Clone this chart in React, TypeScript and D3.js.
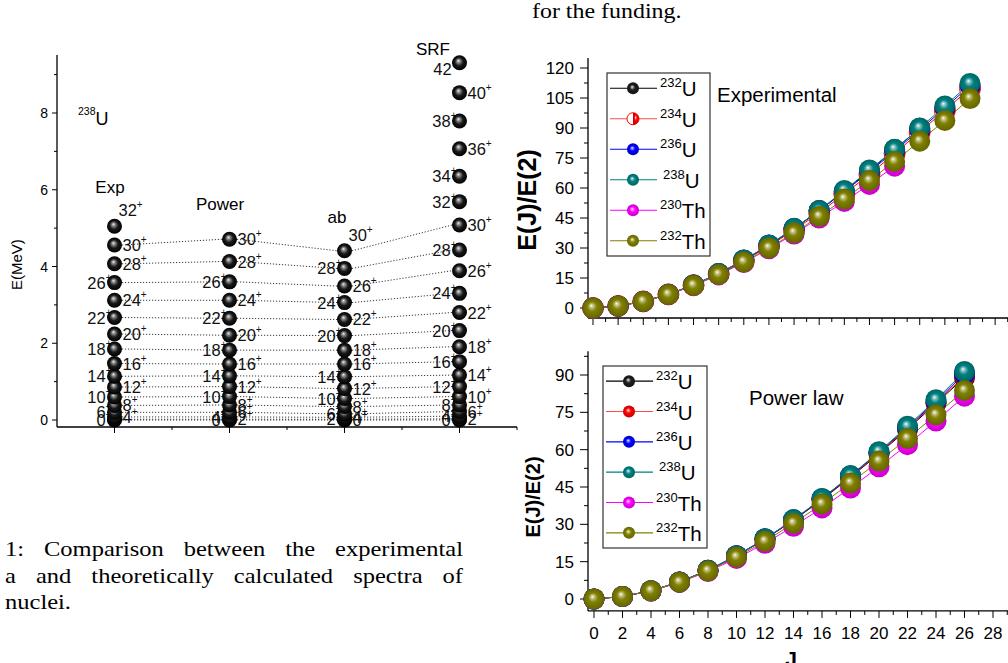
import React, { useLayoutEffect, useRef } from 'react';
import * as d3 from 'd3';

// ---------- left panel: 238U level schemes (energies in MeV)
const spinsExp = [0, 2, 4, 6, 8, 10, 12, 14, 16, 18, 20, 22, 24, 26, 28, 30, 32];
const energyExp = [0, 0.02, 0.08, 0.2, 0.38, 0.6, 0.86, 1.14, 1.47, 1.85, 2.24, 2.67, 3.12, 3.58, 4.07, 4.56, 5.05];
const sidesExp = 'L-RLRLRLRLRLRLRRT';

const spinsPower = [0, 2, 4, 6, 8, 10, 12, 14, 16, 18, 20, 22, 24, 26, 28, 30];
const energyPower = [0, 0.02, 0.08, 0.2, 0.39, 0.61, 0.87, 1.15, 1.46, 1.82, 2.21, 2.65, 3.12, 3.6, 4.13, 4.71];
const sidesPower = 'LRLRRLRLRLRLRLRR';

const spinsAb = [0, 2, 4, 6, 8, 10, 12, 14, 16, 18, 20, 22, 24, 26, 28, 30];
const energyAb = [0, 0.02, 0.07, 0.16, 0.35, 0.56, 0.82, 1.13, 1.46, 1.82, 2.2, 2.62, 3.06, 3.49, 3.95, 4.41];
const sidesAb = 'RLRLRLRLRRLRLRLT';

const spinsSrf = [0, 2, 4, 6, 8, 10, 12, 14, 16, 18, 20, 22, 24, 26, 28, 30, 32, 34, 36, 38, 40, 42];
const energySrf = [0, 0.03, 0.1, 0.22, 0.39, 0.61, 0.87, 1.17, 1.52, 1.91, 2.33, 2.8, 3.3, 3.89, 4.43, 5.08, 5.69, 6.35, 7.07, 7.79, 8.53, 9.31];
const sidesSrf = 'LRLRLRLRLRLRLRLRLLRLRB';

// ---------- right panels: E(J)/E(2)
const isotopeMass = ['232', '234', '236', '238', '230', '232'];
const isotopeEl = ['U', 'U', 'U', 'U', 'Th', 'Th'];
const isotopeColor = ['#000000', '#ff0000', '#0000ff', '#008080', '#ff00ff', '#808000'];

const spinsExpRatio = [0, 2, 4, 6, 8, 10, 12, 14, 16, 18, 20, 22, 24, 26, 28, 30];
const exp232U = [0, 1, 3.29, 6.78, 11.4, 17.0, 23.7, 31.2, 39.6, 48.6, 58.4, 68.6, 79.2, 89.9];
const exp234U = [0, 1, 3.3, 6.81, 11.4, 17.0, 23.6, 30.9, 39.0, 47.6, 57.0, 66.8, 77.2, 88.0, 98.8, 109.8];
const exp236U = [0, 1, 3.3, 6.85, 11.55, 17.3, 24.0, 31.5, 39.8, 48.7, 58.2, 68.1, 78.4, 89.1, 100.0, 111.2];
const exp238U = [0, 1, 3.3, 6.84, 11.54, 17.28, 23.98, 31.53, 39.83, 48.8, 58.8, 69.0, 79.4, 90.0, 101.0, 112.3];
const exp230Th = [0, 1, 3.27, 6.7, 11.16, 16.55, 22.73, 29.6, 37.0, 45.0, 53.3, 61.8, 70.9];
const exp232Th = [0, 1, 3.28, 6.75, 11.28, 16.75, 23.03, 30.0, 37.6, 45.8, 54.5, 63.7, 73.3, 83.4, 93.8, 104.7];

const spinsPowRatio = [0, 2, 4, 6, 8, 10, 12, 14, 16, 18, 20, 22, 24, 26];
const pow232U = [0, 1, 3.3, 6.85, 11.5, 17.3, 24.0, 31.6, 39.9, 48.9, 58.3, 68.2, 78.6, 89.0];
const pow234U = [0, 1, 3.3, 6.86, 11.55, 17.35, 24.1, 31.7, 40.1, 49.1, 58.6, 68.6, 79.0, 89.6];
const pow236U = [0, 1, 3.31, 6.87, 11.58, 17.4, 24.2, 31.8, 40.3, 49.4, 59.0, 69.0, 79.5, 90.5];
const pow238U = [0, 1, 3.31, 6.88, 11.6, 17.4, 24.2, 31.9, 40.4, 49.6, 59.2, 69.4, 80.1, 91.4];
const pow230Th = [0, 1, 3.25, 6.65, 11.05, 16.3, 22.4, 29.2, 36.6, 44.6, 53.1, 62.0, 71.5, 81.5];
const pow232Th = [0, 1, 3.28, 6.75, 11.3, 16.8, 23.2, 30.4, 38.2, 46.6, 55.4, 64.5, 74.0, 83.8];

const seriesExp = [exp232U, exp234U, exp236U, exp238U, exp230Th, exp232Th];
const seriesPow = [pow232U, pow234U, pow236U, pow238U, pow230Th, pow232Th];
const drawOrder = [0, 1, 2, 4, 3, 5];

const sans = '"Liberation Sans", Arial, sans-serif';
const serif = '"Liberation Serif", "DejaVu Serif", serif';

// ---------- scales
const xCol = d3.scaleLinear().domain([0, 8]).range([57, 517]);
const yE = d3.scaleLinear().domain([0, 8]).range([420, 113]);

const xTop = d3.scaleLinear().domain([0, 30]).range([593, 970]);
const yTop = d3.scaleLinear().domain([0, 120]).range([308, 68]);
const xBot = d3.scaleLinear().domain([0, 28]).range([594, 993]);
const yBot = d3.scaleLinear().domain([0, 90]).range([599, 375]);

const columns = [
  { name: 'Exp', pos: 1, spins: spinsExp, energy: energyExp, sides: sidesExp, title: [110, 193] },
  { name: 'Power', pos: 3, spins: spinsPower, energy: energyPower, sides: sidesPower, title: [220, 210] },
  { name: 'ab', pos: 5, spins: spinsAb, energy: energyAb, sides: sidesAb, title: [337, 223] },
  { name: 'SRF', pos: 7, spins: spinsSrf, energy: energySrf, sides: sidesSrf, title: [433, 55] },
];

function Gradients() {
  const stops = (c: string) => [
    ['0', '#ffffff'],
    ['0.16', d3.interpolateRgb('#ffffff', c)(0.45)],
    ['0.45', c],
    ['1', d3.color(c)!.darker(0.7).formatHex()],
  ];
  return (
    <defs>
      <radialGradient id="ball-black" cx="0.5" cy="0.5" r="0.5" fx="0.42" fy="0.36">
        <stop offset="0" stopColor="#f0f0f0" />
        <stop offset="0.22" stopColor="#8a8a8a" />
        <stop offset="0.55" stopColor="#1a1a1a" />
        <stop offset="1" stopColor="#000" />
      </radialGradient>
      {isotopeColor.map((c, i) => (
        <radialGradient key={i} id={`ball-${i}`} cx="0.5" cy="0.5" r="0.5" fx="0.42" fy="0.38">
          {stops(i === 0 ? '#1c1c1c' : c).map(([o, s]) => <stop key={o} offset={o} stopColor={s} />)}
        </radialGradient>
      ))}
    </defs>
  );
}

function LevelLabel({ x, y, j, side }: { x: number; y: number; j: number; side: string }) {
  if (side === '-') return null;
  let tx = x + 8, ty = y + 6, anchor = 'start';
  if (side === 'L') { tx = x - 3; anchor = 'end'; }
  if (side === 'T') { tx = x + 4; ty = y - 10; }
  if (side === 'B') { tx = x - 2; ty = y + 12; anchor = 'end'; }
  return (
    <text x={tx} y={ty} textAnchor={anchor} fontFamily={sans} fontSize={16.5} fill="#111">
      {j}
      <tspan fontSize={10} dy={-8}>+</tspan>
    </text>
  );
}

function LevelPanel() {
  const r = 7.5;
  const links: React.ReactElement[] = [];
  for (let c = 0; c < columns.length - 1; c++) {
    const a = columns[c], b = columns[c + 1];
    b.spins.forEach((j, k) => {
      const ia = a.spins.indexOf(j);
      if (ia < 0 || b.spins[k] > 30) return;
      links.push(
        <line key={`${c}-${j}`} x1={xCol(a.pos) + r} y1={yE(a.energy[ia])} x2={xCol(b.pos) - r} y2={yE(b.energy[k])}
          stroke="#222" strokeWidth={0.9} strokeDasharray="1.2,1.8" />
      );
    });
  }
  const axisY = 427;
  return (
    <g>
      <line x1={xCol(0)} x2={xCol(0)} y1={axisY} y2={55} stroke="#000" strokeWidth={1.3} />
      <line x1={xCol(0)} x2={xCol(8)} y1={axisY} y2={axisY} stroke="#000" strokeWidth={1.3} />
      {[0, 1, 2, 3, 4, 5, 6, 7, 8, 9].map((v) => (
        <line key={v} x1={xCol(0)} x2={xCol(0) - (v % 2 ? 3 : 5)} y1={yE(v)} y2={yE(v)} stroke="#000" strokeWidth={1} />
      ))}
      {[0, 2, 4, 6, 8].map((v) => (
        <text key={v} x={xCol(0) - 9} y={yE(v) + 5} textAnchor="end" fontFamily={sans} fontSize={14}>{v}</text>
      ))}
      {[1, 2, 3, 4, 5, 6, 7, 8].map((v) => (
        <line key={v} x1={xCol(v)} x2={xCol(v)} y1={axisY} y2={axisY + (v % 2 ? 6 : 3)} stroke="#000" strokeWidth={1} />
      ))}
      <text transform={`translate(22,${yE(4.05)}) rotate(-90)`} textAnchor="middle" fontFamily={sans} fontSize={15}>E(MeV)</text>
      <text x={78} y={125} fontFamily={sans} fontSize={18}>
        <tspan fontSize={10.5} dy={-10}>238</tspan><tspan dy={10}>U</tspan>
      </text>
      {links}
      {columns.map((col) => (
        <g key={col.name}>
          <text x={col.title[0]} y={col.title[1]} textAnchor="middle" fontFamily={sans} fontSize={17}>{col.name}</text>
          {col.spins.map((j, i) => (
            <LevelLabel key={j} x={xCol(col.pos)} y={yE(col.energy[i])} j={j} side={col.sides[i]} />
          ))}
          {col.spins.map((j, i) => (
            <circle key={`b${j}`} cx={xCol(col.pos)} cy={yE(col.energy[i])} r={r} fill="url(#ball-black)" />
          ))}
        </g>
      ))}
    </g>
  );
}

function Marker({ x, y, r, i, half }: { x: number; y: number; r: number; i: number; half?: boolean }) {
  if (half) {
    return (
      <g>
        <circle cx={x} cy={y} r={r} fill="#fff" stroke={isotopeColor[i]} strokeWidth={1} />
        <path d={`M${x},${y - r}A${r},${r} 0 0 1 ${x},${y + r}Z`} fill={`url(#ball-${i})`} />
      </g>
    );
  }
  return <circle cx={x} cy={y} r={r} fill={`url(#ball-${i})`} />;
}

function RatioPanel(props: {
  x: d3.ScaleLinear<number, number>; y: d3.ScaleLinear<number, number>; spins: number[]; series: number[][];
  yTicks: number[]; yMax: number; yMin: number; xTickMax: number; labels: boolean; halfRed: boolean;
  legend: [number, number, number, number]; title: string; titleXY: [number, number]; axisLabel: [number, number, number];
}) {
  const { x, y, spins, series, yTicks, yMax, yMin, xTickMax, labels, halfRed, legend, title, titleXY, axisLabel } = props;
  const x0 = 588, x1 = 1008;
  const baseY = y(yMin);
  const line = d3.line<number>().x((_, k) => x(spins[k])).y((d) => y(d));
  const minor = d3.range(yTicks[0], yMax, (yTicks[1] - yTicks[0]) / 2);
  const [lx, ly, lw, lh] = legend;
  const rowH = lh / 6;
  return (
    <g>
      <line x1={x0} x2={x0} y1={baseY} y2={y(yMax)} stroke="#000" strokeWidth={1.3} />
      <line x1={x0} x2={x1} y1={baseY} y2={baseY} stroke="#000" strokeWidth={1.3} />
      {minor.map((v, k) => (
        <line key={v} x1={x0} x2={x0 - (k % 2 ? 4 : 8)} y1={y(v)} y2={y(v)} stroke="#000" strokeWidth={1} />
      ))}
      {yTicks.map((v) => (
        <text key={v} x={x0 - 14} y={y(v) + 6} textAnchor="end" fontFamily={sans} fontSize={17}>{v}</text>
      ))}
      {d3.range(0, xTickMax + 1).map((v) => (
        <line key={v} x1={x(v)} x2={x(v)} y1={baseY} y2={baseY + (v % 2 ? 4 : 7)} stroke="#000" strokeWidth={1} />
      ))}
      {labels && d3.range(0, xTickMax + 1, 2).map((v) => (
        <text key={v} x={x(v)} y={baseY + 28} textAnchor="middle" fontFamily={sans} fontSize={17}>{v}</text>
      ))}
      <text transform={`translate(${axisLabel[0]},${axisLabel[1]}) rotate(-90)`} textAnchor="middle"
        fontFamily={sans} fontWeight="bold" fontSize={axisLabel[2]}>E(J)/E(2)</text>
      <text x={titleXY[0]} y={titleXY[1]} fontFamily={sans} fontSize={20.5}>{title}</text>
      {drawOrder.map((i) => (
        <path key={`l${i}`} d={line(series[i]) || ''} fill="none" stroke={isotopeColor[i]} strokeWidth={1} />
      ))}
      {drawOrder.map((i) => (
        <g key={`m${i}`}>
          {series[i].map((d, k) => (
            <Marker key={k} x={x(spins[k])} y={y(d)} r={10.5} i={i} half={halfRed && i === 1} />
          ))}
        </g>
      ))}
      <rect x={lx} y={ly} width={lw} height={lh} fill="#fff" stroke="#333" strokeWidth={1.2} />
      {isotopeMass.map((m, i) => {
        const cy = ly + rowH * (i + 0.5);
        return (
          <g key={i}>
            <line x1={lx + 3} x2={lx + 50} y1={cy} y2={cy} stroke={isotopeColor[i]} strokeWidth={1.2} opacity={i === 1 ? 0.7 : 1} />
            <Marker x={lx + 26} y={cy} r={6} i={i} half={halfRed && i === 1} />
            <text x={lx + 53 + (i === 3 ? 3 : 0)} y={cy + 8} fontFamily={sans} fontSize={20.5}>
              <tspan fontSize={13} dy={-9}>{m}</tspan><tspan dy={9}>{isotopeEl[i]}</tspan>
            </text>
          </g>
        );
      })}
    </g>
  );
}

const stretch = 1.14;

export default function App() {
  const captionRef = useRef<SVGGElement>(null);

  useLayoutEffect(() => {
    // justify the caption lines like the TeX page does
    d3.select(captionRef.current).selectAll<SVGTextElement, unknown>('text.justify').each(function () {
      const target = +(this.getAttribute('data-width') || 0) / stretch;
      const gaps = (this.textContent || '').trim().split(/\s+/).length - 1;
      const natural = this.getComputedTextLength();
      d3.select(this).style('word-spacing', `${(target - natural) / gaps}px`);
    });
  }, []);

  return (
    <svg width={1008} height={663} style={{ position: 'absolute', left: 0, top: 0, background: '#fff' }}>
      <Gradients />
      <rect width={1008} height={663} fill="#fff" />
      <g transform={`translate(532,18) scale(${stretch},1)`}>
        <text x={0} y={0} fontFamily={serif} fontSize={21}>for the funding.</text>
      </g>

      <LevelPanel />

      <RatioPanel x={xTop} y={yTop} spins={spinsExpRatio} series={seriesExp} yTicks={[0, 15, 30, 45, 60, 75, 90, 105, 120]}
        yMax={125} yMin={-5} xTickMax={33} labels={false} halfRed={true} legend={[607, 73, 103, 183]}
        title="Experimental" titleXY={[717, 102]} axisLabel={[536, 200, 25]} />
      <RatioPanel x={xBot} y={yBot} spins={spinsPowRatio} series={seriesPow} yTicks={[0, 15, 30, 45, 60, 75, 90]}
        yMax={99.5} yMin={-4.8} xTickMax={29} labels={true} halfRed={false} legend={[603, 366, 104, 182]}
        title="Power law" titleXY={[749, 405]} axisLabel={[540, 497, 20]} />
      <text x={791} y={666} textAnchor="middle" fontFamily={sans} fontWeight="bold" fontSize={21}>J</text>

      <g ref={captionRef} transform={`translate(5,0) scale(${stretch},1)`} fontFamily={serif} fontSize={21.5}>
        <text className="justify" data-width={458} x={0} y={556}>1: Comparison between the experimental</text>
        <text className="justify" data-width={458} x={0} y={583}>a and theoretically calculated spectra of</text>
        <text x={0} y={609}>nuclei.</text>
      </g>
    </svg>
  );
}
